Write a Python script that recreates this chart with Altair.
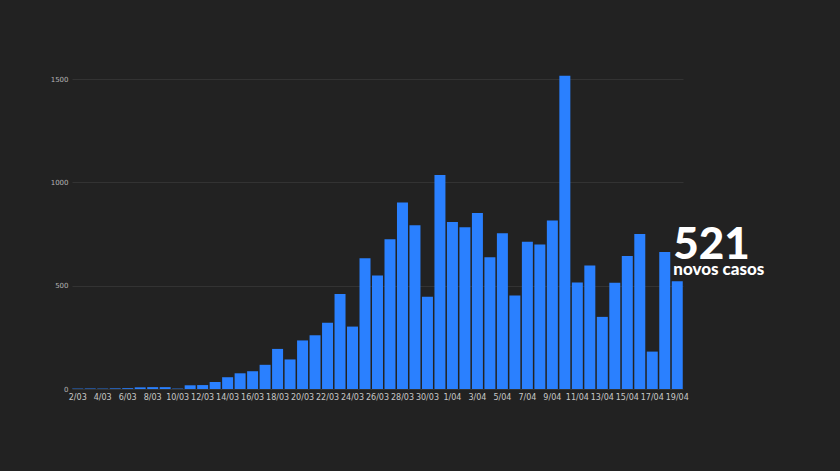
import altair as alt
import pandas as pd

dates = [f"{d}/03" for d in range(2, 32)] + [f"{d}/04" for d in range(1, 20)]
values = [2, 2, 2, 3, 4, 8, 9, 9, 2, 18, 19, 34, 57, 76, 86, 117, 194, 143, 235, 260,
          320, 460, 302, 633, 549, 724, 902, 792, 446, 1035,
          808, 783, 852, 638, 754, 452, 712, 699, 815, 1516, 515, 598, 349, 514, 643,
          750, 181, 663, 521]
y_ticks = [0, 500, 1000, 1500]
label_dates = dates[::2]
big_number = str(values[-1])
caption = "novos casos"

df = pd.DataFrame({"date": dates, "cases": values})
last = df.tail(1).assign(big=big_number, cap=caption)

x = alt.X("date:N", sort=dates, title=None,
          scale=alt.Scale(paddingInner=0.12, paddingOuter=0.02),
          axis=alt.Axis(values=label_dates, labelAngle=0, labelColor="#c8c8c8",
                        labelFont="DejaVu Sans", labelFontSize=8, ticks=False,
                        domain=False, labelPadding=4, grid=False))
y = alt.Y("cases:Q", title=None,
          scale=alt.Scale(domain=[0, 1500], nice=False),
          axis=alt.Axis(values=y_ticks, format="d", labelColor="#b4b4b4",
                        labelFont="DejaVu Sans", labelFontSize=7, ticks=False,
                        domain=False, labelPadding=4,
                        gridColor="#333333", gridWidth=1))

bars = alt.Chart(df).mark_bar(color="#2a80ff").encode(x=x, y=y)

num = alt.Chart(last).mark_text(
    font="Lato", fontWeight=900, fontSize=44, color="white", align="left",
    baseline="alphabetic", dx=-4
).encode(x=alt.X("date:N", sort=dates), y=alt.value(180), text="big:N")

cap = alt.Chart(last).mark_text(
    font="Lato", fontWeight=900, fontSize=17, color="white", align="left",
    baseline="alphabetic", dx=-4
).encode(x=alt.X("date:N", sort=dates), y=alt.value(196), text="cap:N")

chart = alt.layer(bars, num, cap).properties(
    width=611, height=310,
    background="#222222",
    autosize=alt.AutoSizeParams(type="none"),
    padding={"left": 72, "top": 79, "right": 157, "bottom": 82},
).configure_view(stroke=None)

chart.save("out.html", embed_options={"renderer": "svg", "actions": False})
